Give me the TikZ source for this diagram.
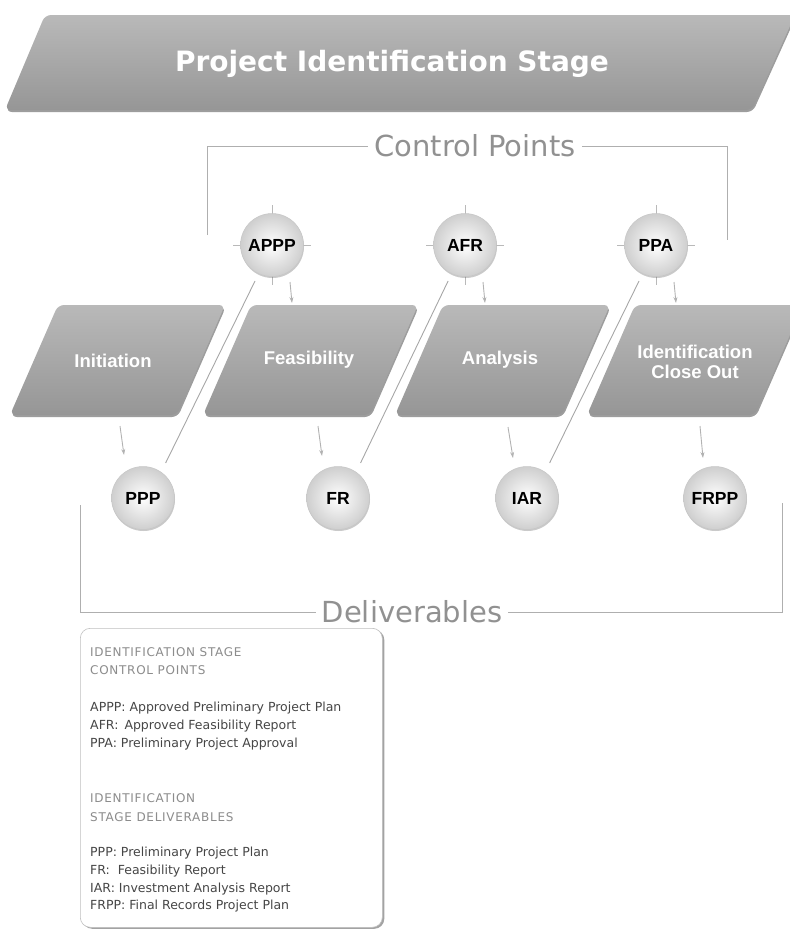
\documentclass[tikz,border=0pt]{standalone}
\usepackage{fontspec}
\setmainfont{DejaVu Sans}
\newfontfamily\ari{Liberation Sans}
\usetikzlibrary{shadows,arrows.meta,calc}
\definecolor{boxtop}{RGB}{185,185,185}
\definecolor{boxbot}{RGB}{150,150,150}
\definecolor{linegray}{RGB}{175,175,175}
\definecolor{txtgray}{RGB}{145,145,145}
\definecolor{legtxt}{RGB}{70,70,70}
\definecolor{leghead}{RGB}{140,140,140}
\begin{document}
\begin{tikzpicture}[x=1pt,y=-1pt,
  stagebox/.style={rounded corners=6pt, top color=boxtop, bottom color=boxbot,
    drop shadow={shadow xshift=0.8pt, shadow yshift=-2pt, opacity=0.55, fill=black!70}},
  stagelbl/.style={text=white, font=\ari\bfseries\fontsize{18.5}{20}\selectfont, align=center},
  ball/.style={circle, minimum size=63pt, inner sep=0pt, inner color=white, outer color=gray!38,
    draw=gray!45, line width=0.5pt, font=\ari\bfseries\fontsize{17.5}{17.5}\selectfont, text=black,
    drop shadow={shadow xshift=0.5pt, shadow yshift=-1.5pt, opacity=0.35, fill=black!60}},
  bracket/.style={draw=linegray, line width=0.7pt},
  cross/.style={draw=gray!55, line width=0.5pt},
  arr/.style={draw=gray!60, line width=0.9pt, -{Stealth[length=6pt,width=4pt]}},
  diag/.style={draw=gray!70, line width=0.9pt, shorten <=8pt, shorten >=10pt},
  bigtxt/.style={text=txtgray, font=\fontsize{29}{29}\selectfont, inner sep=6pt},
  legbody/.style={anchor=base west, inner sep=0pt, text=legtxt, font=\fontsize{12.5}{14}\selectfont},
  leghd/.style={anchor=base west, inner sep=0pt, text=leghead, font=\fontsize{12}{14}\selectfont\addfontfeatures{LetterSpace=6}}
]
\useasboundingbox (0,0) rectangle (790,932);

% banner
\path[stagebox] (5,110) -- (45,15) -- (795,15) -- (752,110) -- cycle;
\node[text=white, font=\bfseries\fontsize{28}{30}\selectfont] (banner) at (392,64) {Project Identification Stage};

% control points bracket
\node[bigtxt] (cptxt) at (475,146) {Control Points};
\coordinate (cpl) at (207,235);
\coordinate (cpr) at (727,240);
\draw[bracket] (cpl) |- (cptxt.west);
\draw[bracket] (cptxt.east) -| (cpr);

% stage boxes
\path[stagebox] (10,415) -- (58,305) -- (225,305) -- (177,415) -- cycle;
\path[stagebox] (203,415) -- (251,305) -- (418,305) -- (370,415) -- cycle;
\path[stagebox] (395,415) -- (443,305) -- (610,305) -- (562,415) -- cycle;
\path[stagebox] (587,415) -- (635,305) -- (803,305) -- (755,415) -- cycle;
\node[stagelbl] (ini) at (113,361) {Initiation};
\node[stagelbl] (fea) at (309,360) {Feasibility};
\node[stagelbl] (ana) at (500,360) {Analysis};
\node[stagelbl] (clo) at (695,362) {Identification\\Close Out};

% control point balls with crosshairs behind
\foreach \n/\x in {APPP/272, AFR/465, PPA/656}{
  \coordinate (c\n) at (\x,245);
  \draw[cross] ($(c\n)+(-39,0)$) -- ($(c\n)+(39,0)$);
  \draw[cross] ($(c\n)+(0,-40)$) -- ($(c\n)+(0,40)$);
  \node[ball] (\n) at (c\n) {\n};
}

% deliverable balls
\node[ball] (PPP) at (143,498) {PPP};
\node[ball] (FR) at (338,498) {FR};
\node[ball] (IAR) at (527,498) {IAR};
\node[ball] (FRPP) at (715,498) {FRPP};

% diagonal links
\draw[diag] (APPP.245) -- (PPP.55);
\draw[diag] (AFR.245) -- (FR.55);
\draw[diag] (PPA.245) -- (IAR.55);

% arrows control -> stage
\coordinate (a1s) at (290,282); \coordinate (a1e) at (292,303);
\coordinate (a2s) at (483,282); \coordinate (a2e) at (485,303);
\coordinate (a3s) at (674,282); \coordinate (a3e) at (676,303);
\draw[arr] (a1s) -- (a1e);
\draw[arr] (a2s) -- (a2e);
\draw[arr] (a3s) -- (a3e);

% arrows stage -> deliverable
\coordinate (b1s) at (120,426); \coordinate (b1e) at (124,455);
\coordinate (b2s) at (318,426); \coordinate (b2e) at (322,456);
\coordinate (b3s) at (508,427); \coordinate (b3e) at (513,458);
\coordinate (b4s) at (700,426); \coordinate (b4e) at (703,458);
\draw[arr] (b1s) -- (b1e);
\draw[arr] (b2s) -- (b2e);
\draw[arr] (b3s) -- (b3e);
\draw[arr] (b4s) -- (b4e);

% deliverables bracket
\node[bigtxt] (deltxt) at (412,612) {Deliverables};
\coordinate (dl) at (80,505);
\coordinate (dr) at (782,503);
\draw[bracket] (dl) |- (deltxt.west);
\draw[bracket] (deltxt.east) -| (dr);

% legend box
\node[draw=gray!50, line width=0.6pt, rounded corners=10pt, fill=white,
  minimum width=302pt, minimum height=299pt, anchor=north west, inner sep=0pt,
  drop shadow={shadow xshift=2pt, shadow yshift=-1.5pt, opacity=0.6, fill=black!60}] (legend) at (80,628) {};
\node[leghd] (h1) at (90,656) {IDENTIFICATION STAGE};
\node[leghd] (h2) at (90,674) {CONTROL POINTS};
\node[legbody] (c1) at (90,711) {APPP: Approved Preliminary Project Plan};
\node[legbody] (c2) at (90,729) {AFR:\ \,Approved Feasibility Report};
\node[legbody] (c3) at (90,747) {PPA: Preliminary Project Approval};
\node[leghd] (h3) at (90,802) {IDENTIFICATION};
\node[leghd] (h4) at (90,821) {STAGE DELIVERABLES};
\node[legbody] (d1) at (90,856) {PPP: Preliminary Project Plan};
\node[legbody] (d2) at (90,874) {FR:\ \ Feasibility Report};
\node[legbody] (d3) at (90,892) {IAR: Investment Analysis Report};
\node[legbody] (d4) at (90,909) {FRPP: Final Records Project Plan};
\end{tikzpicture}
\end{document}
